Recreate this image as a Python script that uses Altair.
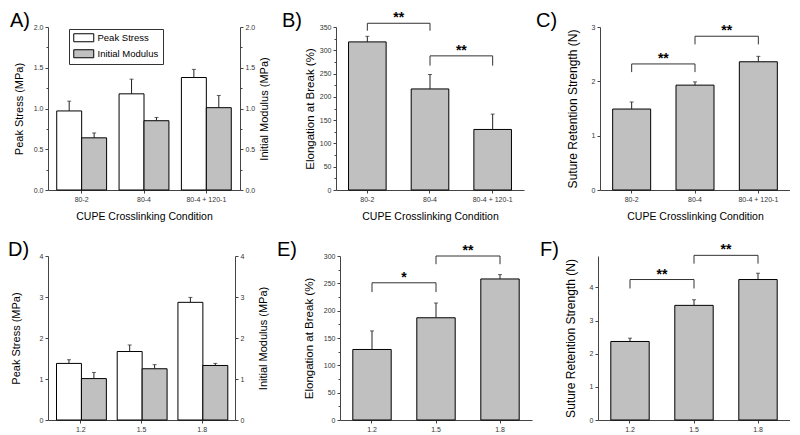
import altair as alt
import pandas as pd

FONT = "Liberation Sans"
GRAY = "#c0c0c0"

# ---------------- data ----------------
conditions = ["80-2", "80-4", "80-4 + 120-1"]
ratios = ["1.2", "1.5", "1.8"]
series_names = ["Peak Stress", "Initial Modulus"]

# A) peak stress / initial modulus (MPa) vs crosslinking condition
a_peak = [0.97, 1.18, 1.38]
a_peak_err = [0.12, 0.18, 0.10]
a_mod = [0.64, 0.85, 1.01]
a_mod_err = [0.06, 0.04, 0.15]
a_ticks = [0, 0.25, 0.5, 0.75, 1.0, 1.25, 1.5, 1.75, 2.0]

# B) elongation at break (%)
b_elong = [318, 217, 130]
b_elong_err = [12, 31, 33]
b_ticks = [0, 25, 50, 75, 100, 125, 150, 175, 200, 225, 250, 275, 300, 325, 350]
b_br_from = ["80-2", "80-4"]
b_br_to = ["80-4", "80-4 + 120-1"]
b_br_top = [358, 288]
b_br_leg = [342, 267]
b_br_text = ["**", "**"]

# C) suture retention strength (N)
c_suture = [1.49, 1.93, 2.36]
c_suture_err = [0.13, 0.06, 0.10]
c_ticks = [0, 0.5, 1, 1.5, 2, 2.5, 3]
c_br_from = ["80-2", "80-4"]
c_br_to = ["80-4", "80-4 + 120-1"]
c_br_top = [2.32, 2.83]
c_br_leg = [2.17, 2.68]
c_br_text = ["**", "**"]

# D) peak stress / initial modulus vs ratio
d_peak = [1.38, 1.67, 2.87]
d_peak_err = [0.09, 0.16, 0.12]
d_mod = [1.01, 1.25, 1.33]
d_mod_err = [0.15, 0.10, 0.05]
d_ticks = [0, 0.5, 1, 1.5, 2, 2.5, 3, 3.5, 4]

# E) elongation at break (%)
e_elong = [129, 187, 258]
e_elong_err = [34, 27, 8]
e_ticks = [0, 25, 50, 75, 100, 125, 150, 175, 200, 225, 250, 275, 300]
e_br_from = ["1.2", "1.5"]
e_br_to = ["1.5", "1.8"]
e_br_top = [251, 300]
e_br_leg = [234, 285]
e_br_text = ["*", "**"]

# F) suture retention strength (N)
f_suture = [2.37, 3.46, 4.24]
f_suture_err = [0.10, 0.17, 0.19]
f_ticks = [0, 0.5, 1, 1.5, 2, 2.5, 3, 3.5, 4, 4.5]
f_br_from = ["1.2", "1.5"]
f_br_to = ["1.5", "1.8"]
f_br_top = [4.24, 4.97]
f_br_leg = [3.97, 4.72]
f_br_text = ["**", "**"]

XTITLE = "CUPE Crosslinking Condition"


# ---------------- helpers ----------------
def y_axis(title, ticks, major, fmt, pad, tsize, orient="left", right=False):
    test = f"abs(datum.value / {major} - round(datum.value / {major})) < 1e-6"
    kw = {}
    if right:
        kw["titleAngle"] = 270
        kw["titleBaseline"] = "top"
    return alt.Axis(
        orient=orient, title=title, values=ticks, format=fmt,
        labelExpr=f"{test} ? datum.label : ''",
        tickSize={"condition": {"test": test, "value": 3}, "value": 2},
        titlePadding=pad, titleFontSize=tsize, labelOverlap=False,
        labelFlush=False, grid=False, labelColor="#333", **kw
    )


def x_axis(title):
    if title:
        return alt.Axis(title=title, labelAngle=0, tickSize=3, titlePadding=9,
                        titleFontSize=10.5, labelColor="#333")
    return alt.Axis(title=None, labelAngle=0, tickSize=3, labelColor="#333")


def label_layer(text, dx):
    return alt.Chart(pd.DataFrame({"t": [text]})).mark_text(
        align="left", baseline="alphabetic", fontSize=20, font=FONT, color="black"
    ).encode(text="t:N", x=alt.value(dx), y=alt.value(0))


def single_panel(cats, vals, errs, ticks, major, fmt, ymax, ytitle, ypad, tsize,
                 xtitle, w, h, lab, lab_dx, br_from, br_to, br_top, br_leg, br_text):
    df = pd.DataFrame({"cond": cats, "value": vals, "err": errs})
    xscale = alt.Scale(domain=cats, paddingInner=0.4, paddingOuter=0.2)
    ys = alt.Scale(domain=[0, ymax], nice=False, zero=True)
    base = alt.Chart(df).transform_calculate(top="datum.value + datum.err")
    bars = base.mark_bar(fill=GRAY, stroke="black", strokeWidth=1).encode(
        x=alt.X("cond:N", sort=cats, scale=xscale, axis=x_axis(xtitle)),
        y=alt.Y("value:Q", scale=ys,
                axis=y_axis(ytitle, ticks, major, fmt, ypad, tsize)))
    xn = alt.X("cond:N", sort=cats, scale=xscale, axis=None)
    err = base.mark_rule(color="#222", strokeWidth=1).encode(
        x=xn, y=alt.Y("value:Q", scale=ys, axis=None), y2="top:Q")
    cap = base.mark_tick(color="#222", size=4, thickness=1).encode(
        x=xn, y=alt.Y("top:Q", scale=ys, axis=None))

    bdf = pd.DataFrame({"from": br_from, "to": br_to, "top": br_top,
                        "leg": br_leg, "text": br_text})
    bc = alt.Chart(bdf)
    hline = bc.mark_rule(color="#333").encode(
        x=alt.X("from:N", scale=xscale, axis=None), x2="to:N",
        y=alt.Y("top:Q", scale=ys, axis=None))
    leg_l = bc.mark_rule(color="#333").encode(
        x=alt.X("from:N", scale=xscale, axis=None),
        y=alt.Y("leg:Q", scale=ys, axis=None), y2="top:Q")
    leg_r = bc.mark_rule(color="#333").encode(
        x=alt.X("to:N", scale=xscale, axis=None),
        y=alt.Y("leg:Q", scale=ys, axis=None), y2="top:Q")
    step = w / (len(cats) - 0.4 + 0.4)
    stars = bc.mark_text(dx=step / 2, dy=-1, baseline="alphabetic", fontSize=14,
                         fontWeight="bold", font=FONT, color="black").encode(
        x=alt.X("from:N", scale=xscale, axis=None),
        y=alt.Y("top:Q", scale=ys, axis=None), text="text:N")
    return alt.layer(bars, err, cap, hline, leg_l, leg_r, stars,
                     label_layer(lab, lab_dx)).resolve_axis(
        x="independent", y="independent").properties(width=w, height=h)


def grouped_panel(cats, peak, peak_err, mod, mod_err, ticks, major, fmt, ymax,
                  lpad, rpad, xtitle, w, h, lab, lab_dx, lx, ly):
    df = pd.DataFrame({
        "cond": cats + cats,
        "series": [series_names[0]] * len(cats) + [series_names[1]] * len(cats),
        "value": peak + mod,
        "err": peak_err + mod_err,
    })
    xscale = alt.Scale(domain=cats, paddingInner=0.2, paddingOuter=0.14)
    xs = alt.X("cond:N", sort=cats, scale=xscale, axis=x_axis(xtitle))
    xn = alt.X("cond:N", sort=cats, scale=xscale, axis=None)
    xo = alt.XOffset("series:N", sort=series_names,
                     scale=alt.Scale(domain=series_names, paddingInner=0, paddingOuter=0))
    ys = alt.Scale(domain=[0, ymax], nice=False, zero=True)
    base = alt.Chart(df).transform_calculate(top="datum.value + datum.err")
    bars = base.mark_bar(stroke="black", strokeWidth=1, opacity=1).encode(
        x=xs, xOffset=xo,
        y=alt.Y("value:Q", scale=ys,
                axis=y_axis("Peak Stress (MPa)", ticks, major, fmt, lpad, 11)),
        fill=alt.Fill("series:N",
                      scale=alt.Scale(domain=series_names, range=["white", GRAY]),
                      legend=alt.Legend(
                          orient="none", legendX=lx, legendY=ly, title=None,
                          symbolType="M-2.5,-1H2.5V1H-2.5Z", symbolSize=64,
                          symbolOffset=6,
                          symbolStrokeColor="black", symbolStrokeWidth=1,
                          symbolOpacity=1,
                          labelFontSize=9.5, labelFont=FONT, labelColor="black",
                          labelOffset=9, strokeColor="#333", fillColor="white",
                          padding=4, rowPadding=3)),
    )
    err = base.mark_rule(color="#222", strokeWidth=1).encode(
        x=xn, xOffset=xo,
        y=alt.Y("value:Q", scale=ys,
                axis=y_axis("Initial Modulus (MPa)", ticks, major, fmt, rpad, 11,
                            orient="right", right=True)),
        y2="top:Q")
    cap = base.mark_tick(color="#222", size=4, thickness=1).encode(
        x=xn, xOffset=xo, y=alt.Y("top:Q", scale=ys, axis=None))
    return alt.layer(bars, err, cap, label_layer(lab, lab_dx)).resolve_axis(
        x="independent", y="independent").properties(width=w, height=h)


# ---------------- panels ----------------
A = grouped_panel(conditions, a_peak, a_peak_err, a_mod, a_mod_err, a_ticks, 0.5,
                  ".1f", 2.0, 9, 4, XTITLE, 192, 163, "A)", -38, 21, 2)
B = single_panel(conditions, b_elong, b_elong_err, b_ticks, 50, "d", 350,
                 "Elongation at Break (%)", 4, 11.5, XTITLE, 188, 163, "B)", -54,
                 b_br_from, b_br_to, b_br_top, b_br_leg, b_br_text)
C = single_panel(conditions, c_suture, c_suture_err, c_ticks, 1, "d", 3,
                 "Suture Retention Strength (N)", 12, 12, XTITLE, 190, 163, "C)", -64,
                 c_br_from, c_br_to, c_br_top, c_br_leg, c_br_text)
D = grouped_panel(ratios, d_peak, d_peak_err, d_mod, d_mod_err, d_ticks, 1,
                  "d", 4, 18, 14, None, 187, 164, "D)", -40, 15, 7)
E = single_panel(ratios, e_elong, e_elong_err, e_ticks, 50, "d", 300,
                 "Elongation at Break (%)", 9, 11.5, None, 192, 164, "E)", -63,
                 e_br_from, e_br_to, e_br_top, e_br_leg, e_br_text)
F = single_panel(ratios, f_suture, f_suture_err, f_ticks, 1, "d", 4.95,
                 "Suture Retention Strength (N)", 12, 12, None, 192, 164, "F)", -58,
                 f_br_from, f_br_to, f_br_top, f_br_leg, f_br_text)

row1 = alt.hconcat(A, B, C, spacing=12)
row2 = alt.hconcat(D, E, F, spacing=8)

chart = alt.vconcat(row1, row2, spacing=18).properties(
    padding={"left": 0, "top": 3, "right": 0, "bottom": 0}
).configure_view(stroke=None).configure_axis(
    grid=False, labelFont=FONT, titleFont=FONT, labelFontSize=7,
    titleFontWeight="normal", domainColor="#444", tickColor="#444",
    labelColor="#333", titleColor="black", labelPadding=2,
).configure_text(font=FONT)

chart.save("out.html", embed_options={"renderer": "svg", "actions": False})
